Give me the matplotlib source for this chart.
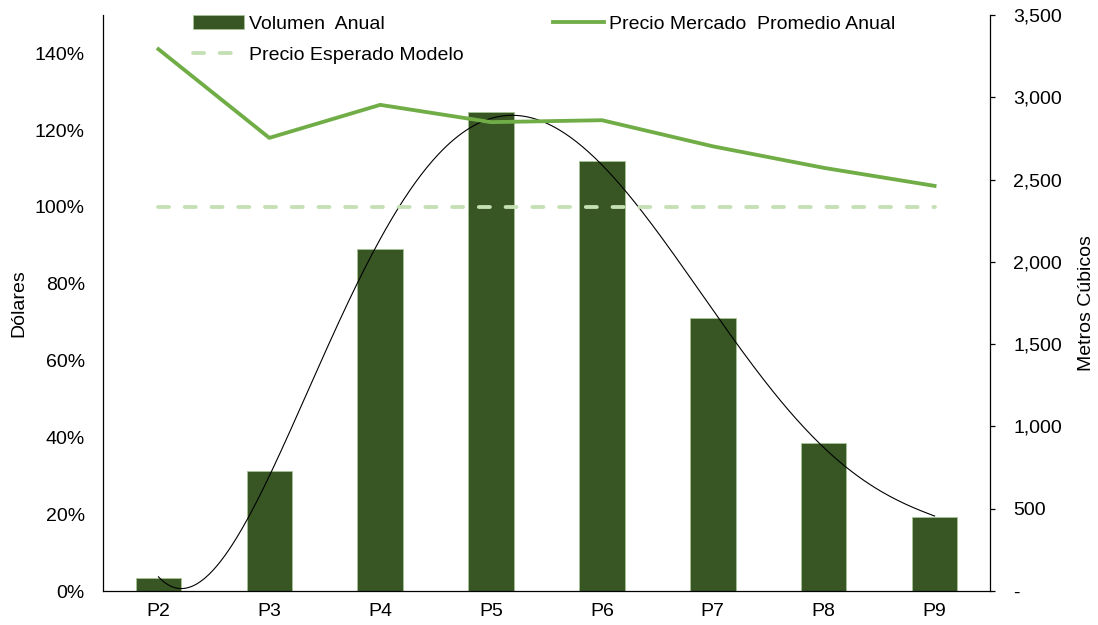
import numpy as np
import matplotlib
matplotlib.use("Agg")
import matplotlib.pyplot as plt
from matplotlib.ticker import FuncFormatter, MultipleLocator
from matplotlib.lines import Line2D
from matplotlib.patches import Patch

# Data
periods = ["P2", "P3", "P4", "P5", "P6", "P7", "P8", "P9"]
volume = [80, 730, 2080, 2910, 2610, 1660, 900, 450]          # m3 (right axis)
market_price = [141.1, 118.0, 126.6, 122.1, 122.6, 115.8, 110.2, 105.5]  # % (left axis)
expected_price = [100, 100, 100, 100, 100, 100, 100, 100]      # % (left axis)
trend_degree = 5

BAR_GREEN = "#375623"
BAR_EDGE = "#a8c496"
LINE_GREEN = "#70AD47"
DASH_GREEN = "#C5E0B4"

plt.rcParams["font.family"] = ["Liberation Sans", "DejaVu Sans"]
plt.rcParams["font.size"] = 14

fig = plt.figure(figsize=(10.98, 6.25), dpi=100)
ax = fig.add_axes([103 / 1098, 34 / 625, 887 / 1098, 576 / 625])
ax2 = ax.twinx()

x = np.arange(len(periods))

# Volume bars and polynomial trend line (right axis)
ax2.bar(x, volume, width=0.41, color=BAR_GREEN, edgecolor=BAR_EDGE,
        linewidth=0.6, zorder=2)
coef = np.polyfit(x, volume, trend_degree)
xs = np.linspace(x[0], x[-1], 400)
ax2.plot(xs, np.polyval(coef, xs), color="black", lw=0.8, zorder=3)

# Price lines (left axis), drawn above the bars
dash_style = (0, (2.9, 4.1))
ax.plot(x, expected_price, color=DASH_GREEN, lw=2.75, ls=dash_style,
        dash_capstyle="round", zorder=3)
ax.plot(x, market_price, color=LINE_GREEN, lw=2.75, zorder=4)
ax.set_zorder(ax2.get_zorder() + 1)
ax.patch.set_visible(False)

# Scales
ax.set_xlim(-0.5, len(periods) - 0.5)
ax.set_ylim(0, 150)
ax2.set_ylim(0, 3500)
ax.set_xticks(x)
ax.set_xticklabels(periods)
ax.yaxis.set_major_locator(MultipleLocator(20))
ax2.yaxis.set_major_locator(MultipleLocator(500))
ax.yaxis.set_major_formatter(FuncFormatter(lambda v, p: f"{v:.0f}%"))
ax2.yaxis.set_major_formatter(
    FuncFormatter(lambda v, p: "-" if abs(v) < 1e-9 else f"{v:,.0f}"))

# Spines and ticks
for s in ("top", "right"):
    ax.spines[s].set_visible(False)
for s in ("top", "left", "bottom"):
    ax2.spines[s].set_visible(False)
for sp in (ax.spines["left"], ax.spines["bottom"], ax2.spines["right"]):
    sp.set_linewidth(0.9)
    sp.set_color("black")

ax.tick_params(axis="y", length=0, pad=13)
ax.tick_params(axis="x", length=0, pad=9)
ax2.tick_params(axis="y", length=3.6, width=0.9, pad=13)

ax.set_ylabel("Dólares", labelpad=5)
ax2.set_ylabel("Metros Cúbicos", labelpad=11.5)

# Legends
h_vol = Patch(facecolor=BAR_GREEN, edgecolor=BAR_EDGE, linewidth=0.6)
h_exp = Line2D([], [], color=DASH_GREEN, lw=2.75, ls=dash_style,
               dash_capstyle="round")
h_mkt = Line2D([], [], color=LINE_GREEN, lw=2.75)

leg_kw = dict(loc="upper left", frameon=False, borderpad=0, borderaxespad=0,
              handlelength=2.6, handletextpad=0.26, labelspacing=0.7)
fig.legend([h_vol, h_exp], ["Volumen  Anual", "Precio Esperado Modelo"],
           bbox_to_anchor=(193 / 1098, 1 - 15 / 625), **leg_kw)
fig.legend([h_mkt], ["Precio Mercado  Promedio Anual"],
           bbox_to_anchor=(553 / 1098, 1 - 15 / 625), **leg_kw)

fig.savefig("out.png", dpi=100)
